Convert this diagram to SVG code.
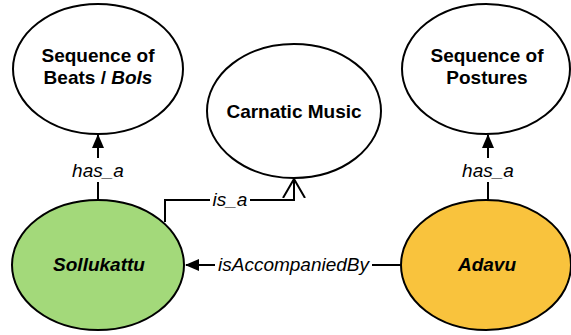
<svg xmlns="http://www.w3.org/2000/svg" width="571" height="335" viewBox="0 0 571 335">
<style>
.node{stroke:#000;stroke-width:2}
.t{font-family:"Liberation Sans",Arial,sans-serif;font-size:19px;font-weight:bold;text-anchor:middle;fill:#000}
.bi{font-style:italic}
.lbl{font-family:"Liberation Sans",Arial,sans-serif;font-size:19px;font-style:italic;text-anchor:middle;fill:#000}
.ln{fill:none;stroke:#000;stroke-width:2}
</style>
<defs>
<marker id="fa" viewBox="0 0 14 12" refX="13" refY="6" markerWidth="14" markerHeight="12" markerUnits="userSpaceOnUse" orient="auto">
<path d="M0,0 L14,6 L0,12 Z" fill="#000"/>
</marker>
<marker id="oa" viewBox="0 0 20 24" refX="19" refY="12" markerWidth="20" markerHeight="24" markerUnits="userSpaceOnUse" orient="auto">
<path d="M0,1 L19,12 L0,23" fill="none" stroke="#000" stroke-width="2"/>
</marker>
</defs>
<g id="connectors">
<g id="e1">
<path class="ln" d="M98,200 V135" marker-end="url(#fa)"/>
<rect x="70" y="158" width="56" height="24" fill="#fff"/>
<text class="lbl" x="98" y="177">has_a</text>
</g>
<g id="e2">
<path class="ln" d="M488,200 V135" marker-end="url(#fa)"/>
<rect x="460" y="158" width="56" height="24" fill="#fff"/>
<text class="lbl" x="488" y="177">has_a</text>
</g>
<g id="e3">
<path class="ln" d="M165,222 V200 H294 V179" marker-end="url(#oa)"/>
<rect x="210" y="188" width="40" height="22" fill="#fff"/>
<text class="lbl" x="230" y="206">is_a</text>
</g>
<g id="e4">
<path class="ln" d="M401,265 H186" marker-end="url(#fa)"/>
<rect x="215" y="252" width="157" height="24" fill="#fff"/>
<text class="lbl" x="293.5" y="271">isAccompaniedBy</text>
</g>
</g>
<g id="beats">
<ellipse class="node" cx="98" cy="69" rx="85" ry="65" fill="#fff"/>
<text class="t" x="98" y="62">Sequence of</text>
<text class="t" x="98" y="84">Beats / <tspan class="bi">Bols</tspan></text>
</g>
<g id="carnatic">
<ellipse class="node" cx="294" cy="111" rx="87" ry="67" fill="#fff"/>
<text class="t" x="294" y="118">Carnatic Music</text>
</g>
<g id="postures">
<ellipse class="node" cx="486" cy="69" rx="84" ry="65" fill="#fff"/>
<text class="t" x="487" y="62">Sequence of</text>
<text class="t" x="487" y="84">Postures</text>
</g>
<g id="sollukattu">
<ellipse class="node" cx="98" cy="265" rx="86" ry="65" fill="#a3d97a"/>
<text class="t bi" x="99" y="271">Sollukattu</text>
</g>
<g id="adavu">
<ellipse class="node" cx="486" cy="265" rx="85" ry="65" fill="#f9c33d"/>
<text class="t bi" x="487" y="271">Adavu</text>
</g>
</svg>
